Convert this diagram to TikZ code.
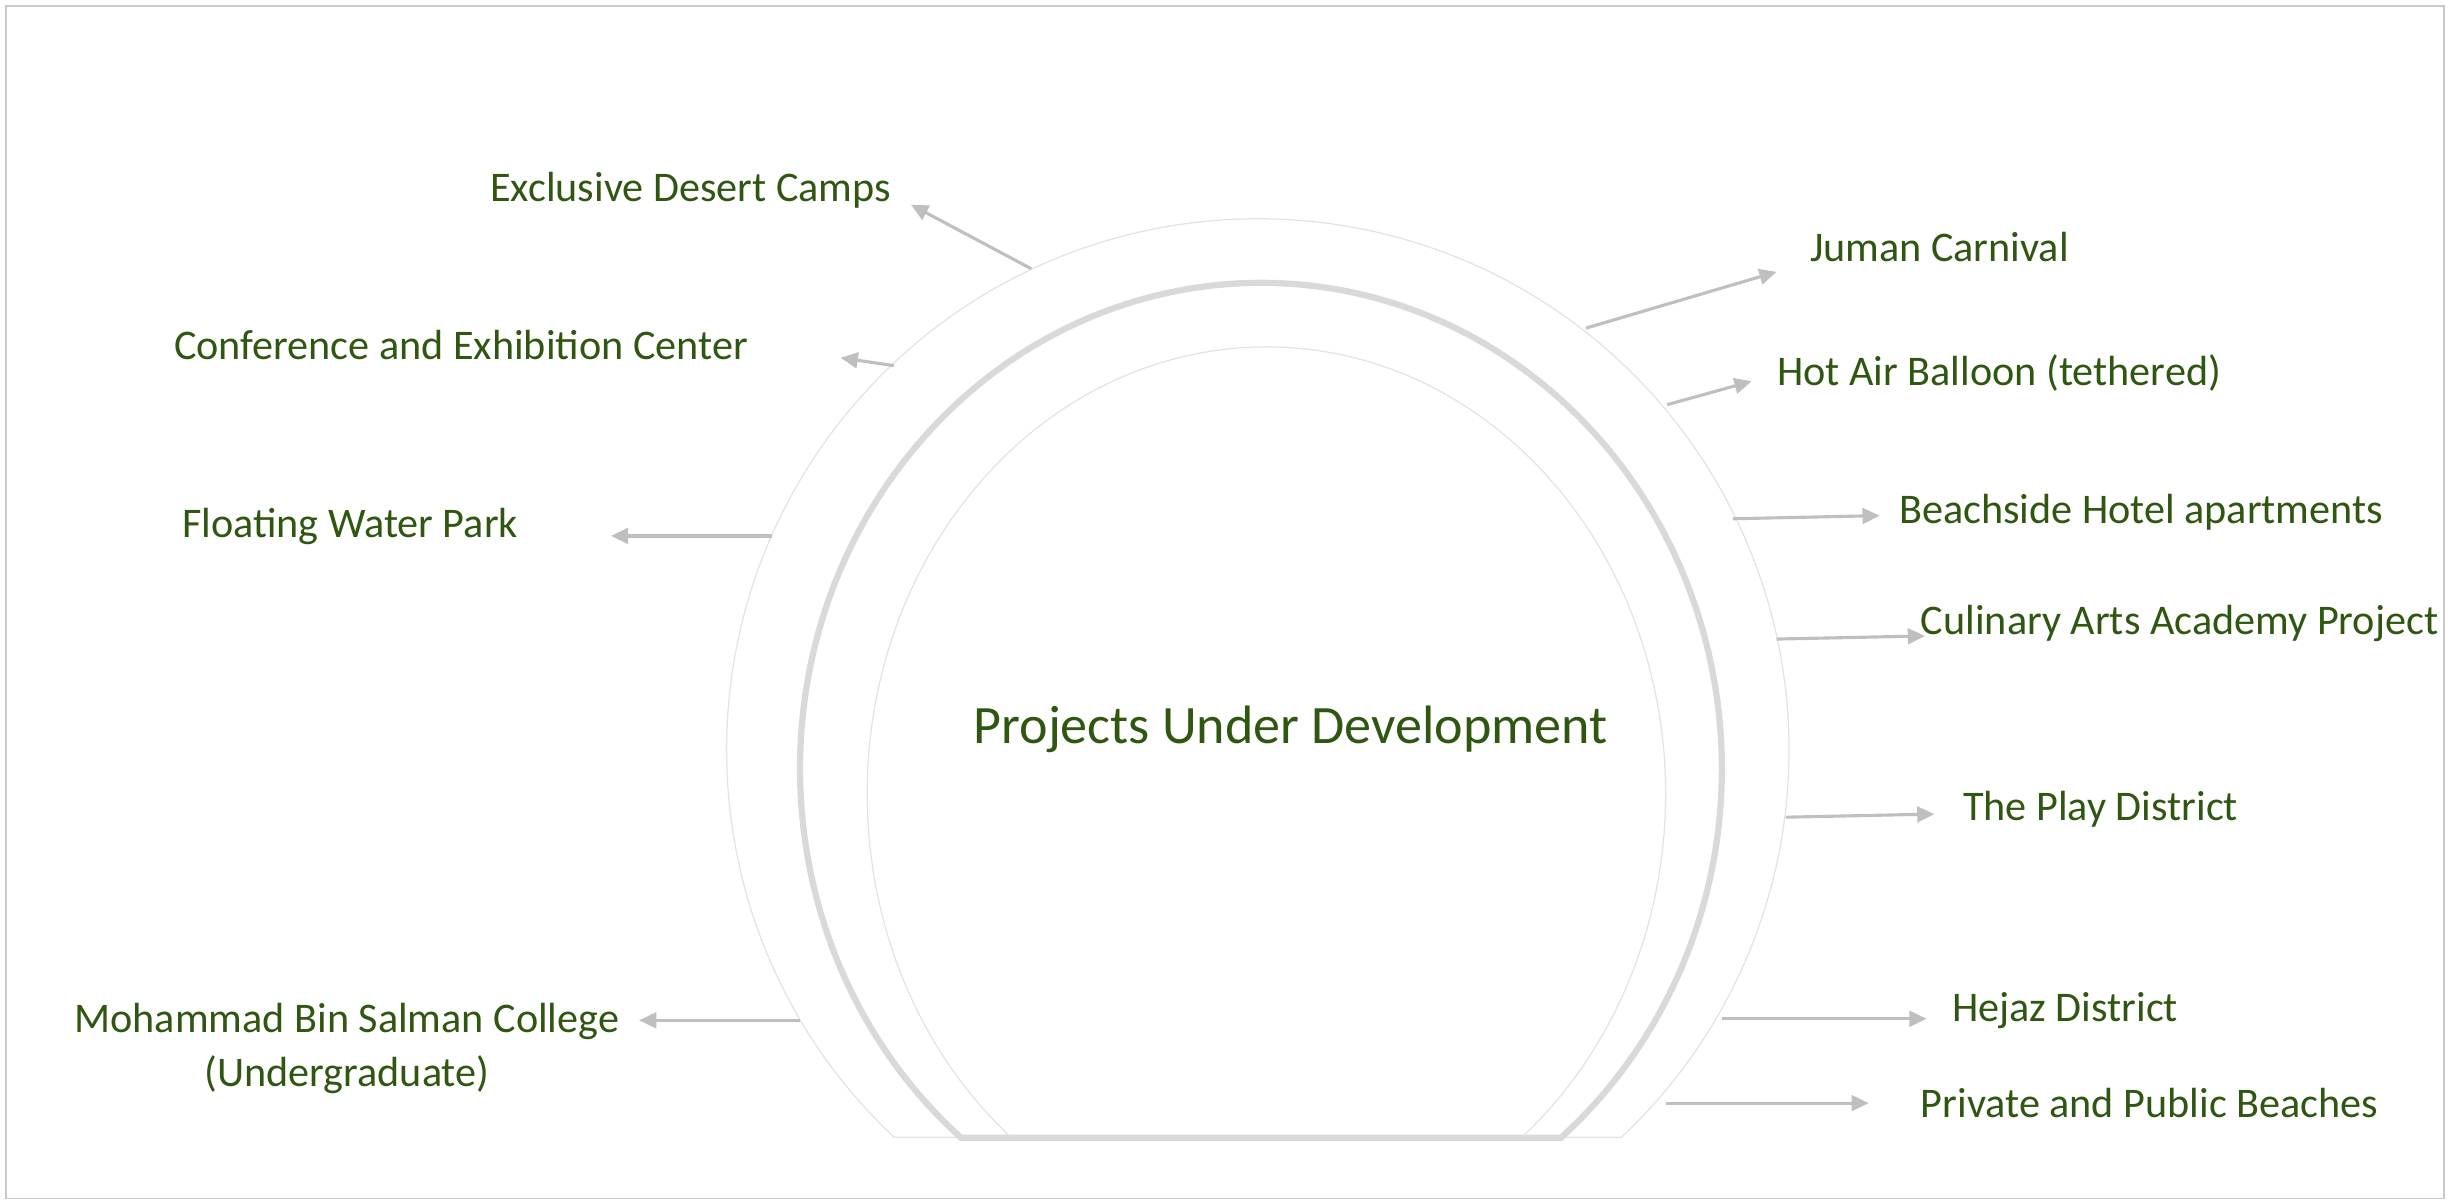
\documentclass[tikz,border=0pt]{standalone}
\usepackage{fontspec}
\setmainfont{Carlito}
\usetikzlibrary{arrows.meta}
\definecolor{txtgreen}{HTML}{2F5711}
\definecolor{arrgray}{HTML}{BFBFBF}
\definecolor{thickgray}{HTML}{D9D9D9}
\definecolor{thingray}{HTML}{E3E3E3}
\definecolor{framegray}{HTML}{C8C8C8}
\begin{document}
\begin{tikzpicture}[x={(0.5pt,0)},y={(0,-0.5pt)},
  lbl/.style={text=txtgreen,font=\fontsize{13.5}{17}\selectfont,inner sep=0pt,align=center},
  conn/.style={draw=arrgray,line width=1pt,-{Triangle[length=5.5pt,width=5pt]}},
  thinarc/.style={draw=thingray,line width=0.4pt},
  thickarc/.style={draw=thickgray,line width=2pt}]
\useasboundingbox (0,0) rectangle (1568,770);
\draw[framegray,line width=0.6pt] (4,4) rectangle (1564,767);
% arches
\draw[thinarc] ([shift={(133.2:340)}]805,480) arc[start angle=133.2,end angle=406.8,radius=340] -- cycle;
\draw[thickarc] ([shift={(130.6:295 and 311)}]807,492) arc[start angle=130.6,end angle=409.4,x radius=295,y radius=311] -- cycle;
\draw[thinarc] ([shift={(130:255.5 and 286)}]810.5,508) arc[start angle=130,end angle=410,x radius=255.5,y radius=286];
% centre text
\node[text=txtgreen,font=\fontsize{17.3}{21}\selectfont,inner sep=0pt] (center) at (826,467) {Projects Under Development};
% labels
\node[lbl] (l1) at (442,122) {Exclusive Desert Camps};
\node[lbl] (l2) at (295,221) {Conference and Exhibition Center};
\node[lbl] (l3) at (224,337) {Floating Water Park};
\node[lbl] (l4) at (222,671) {Mohammad Bin Salman College\\(Undergraduate)};
\node[lbl,anchor=west] (r1) at (1158,158) {Juman Carnival};
\node[lbl,anchor=west] (r2) at (1137,239) {Hot Air Balloon (tethered)};
\node[lbl,anchor=west] (r3) at (1215,328) {Beachside Hotel apartments};
\node[lbl,anchor=west] (r4) at (1229,399) {Culinary Arts Academy Project};
\node[lbl,anchor=west] (r5) at (1256,518) {The Play District};
\node[lbl,anchor=west] (r6) at (1249,647) {Hejaz District};
\node[lbl,anchor=west] (r7) at (1229,706) {Private and Public Beaches};
% connector end points
\coordinate (a1s) at (660,172); \coordinate (a1e) at (583,131);
\coordinate (a2s) at (572,234); \coordinate (a2e) at (538,229);
\coordinate (a3s) at (494,343); \coordinate (a3e) at (391,343);
\coordinate (a4s) at (512,653); \coordinate (a4e) at (409,653);
\coordinate (b1s) at (1015,210); \coordinate (b1e) at (1137,174);
\coordinate (b2s) at (1067,259); \coordinate (b2e) at (1121,244);
\coordinate (b3s) at (1109,332); \coordinate (b3e) at (1203,330);
\coordinate (b4s) at (1137,409); \coordinate (b4e) at (1232,407);
\coordinate (b5s) at (1143,523); \coordinate (b5e) at (1238,521);
\coordinate (b6s) at (1102,652); \coordinate (b6e) at (1233,652);
\coordinate (b7s) at (1066,706); \coordinate (b7e) at (1196,706);
\foreach \n in {a1,a2,a3,a4,b1,b2,b3,b4,b5,b6,b7}{
  \draw[conn] (\n s) -- (\n e);
}
\end{tikzpicture}
\end{document}
